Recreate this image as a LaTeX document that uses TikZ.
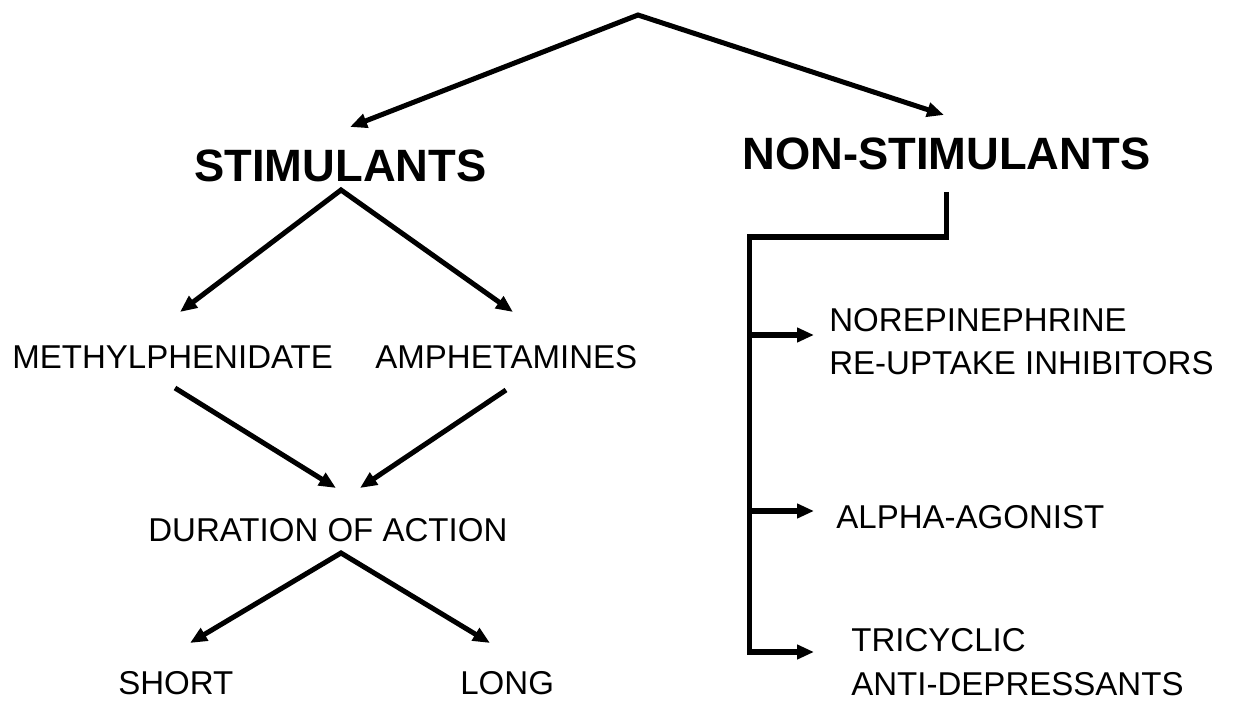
\documentclass[tikz,border=0pt]{standalone}
\usepackage{fontspec}
\setmainfont{Liberation Sans}
\usetikzlibrary{arrows.meta}

\begin{document}
\begin{tikzpicture}[x=0.02cm, y=-0.02cm,
    arr/.style={line width=2.85pt, -{Triangle[length=0.34cm, width=0.28cm]}},
    arrtwo/.style={line width=2.85pt, {Triangle[length=0.34cm, width=0.28cm]}-{Triangle[length=0.34cm, width=0.28cm]}},
    lbl/.style={anchor=west, inner sep=0pt, font=\fontsize{18.8}{22}\selectfont},
    head/.style={anchor=west, inner sep=0pt, font=\fontsize{25.8}{30}\selectfont\bfseries}]
    \useasboundingbox (0,0) rectangle (1238,702);
    % Labels:
    \node[head] (stim) at (194,166) {STIMULANTS};
    \node[head] (nonstim) at (742,154) {NON-STIMULANTS};
    \node[lbl] (meth) at (12,357) {METHYLPHENIDATE};
    \node[lbl] (amph) at (375,357) {AMPHETAMINES};
    \node[lbl] (dur) at (148,530) {DURATION OF ACTION};
    \node[lbl] (short) at (118,683) {SHORT};
    \node[lbl] (long) at (460,683) {LONG};
    \node[lbl] (norA) at (829,320) {NOREPINEPHRINE};
    \node[lbl] (norB) at (829,363) {RE-UPTAKE INHIBITORS};
    \node[lbl] (alpha) at (836,517) {ALPHA-AGONIST};
    \node[lbl] (triA) at (851,640) {TRICYCLIC};
    \node[lbl] (triB) at (851,684) {ANTI-DEPRESSANTS};
    % Ends of the connectors:
    \coordinate (top) at (638,15);
    \coordinate (tStim) at (350,127);
    \coordinate (tNon) at (944,115);
    \coordinate (sApex) at (341,190);
    \coordinate (tMeth) at (180,312);
    \coordinate (tAmph) at (513,312);
    \coordinate (fMeth) at (175,388);
    \coordinate (fAmph) at (506,390);
    \coordinate (tDurL) at (336,488);
    \coordinate (tDurR) at (360,488);
    \coordinate (dApex) at (341,553);
    \coordinate (tShort) at (190,643);
    \coordinate (tLong) at (490,643);
    \coordinate (bTop) at (946,192);
    \coordinate (bLeft) at (749,237);
    \coordinate (bNor) at (749,335);
    \coordinate (bAlpha) at (749,511);
    \coordinate (tNor) at (814,335);
    \coordinate (tAlpha) at (814,511);
    \coordinate (tTri) at (814,652);
    % Arrows:
    \draw[arrtwo] (tStim) -- (top) -- (tNon);
    \draw[arrtwo] (tMeth) -- (sApex) -- (tAmph);
    \draw[arr] (fMeth) -- (tDurL);
    \draw[arr] (fAmph) -- (tDurR);
    \draw[arrtwo] (tShort) -- (dApex) -- (tLong);
    \draw[arr] (bTop) |- (bLeft) |- (tTri);
    \draw[arr] (bNor) -- (tNor);
    \draw[arr] (bAlpha) -- (tAlpha);
\end{tikzpicture}
\end{document}
